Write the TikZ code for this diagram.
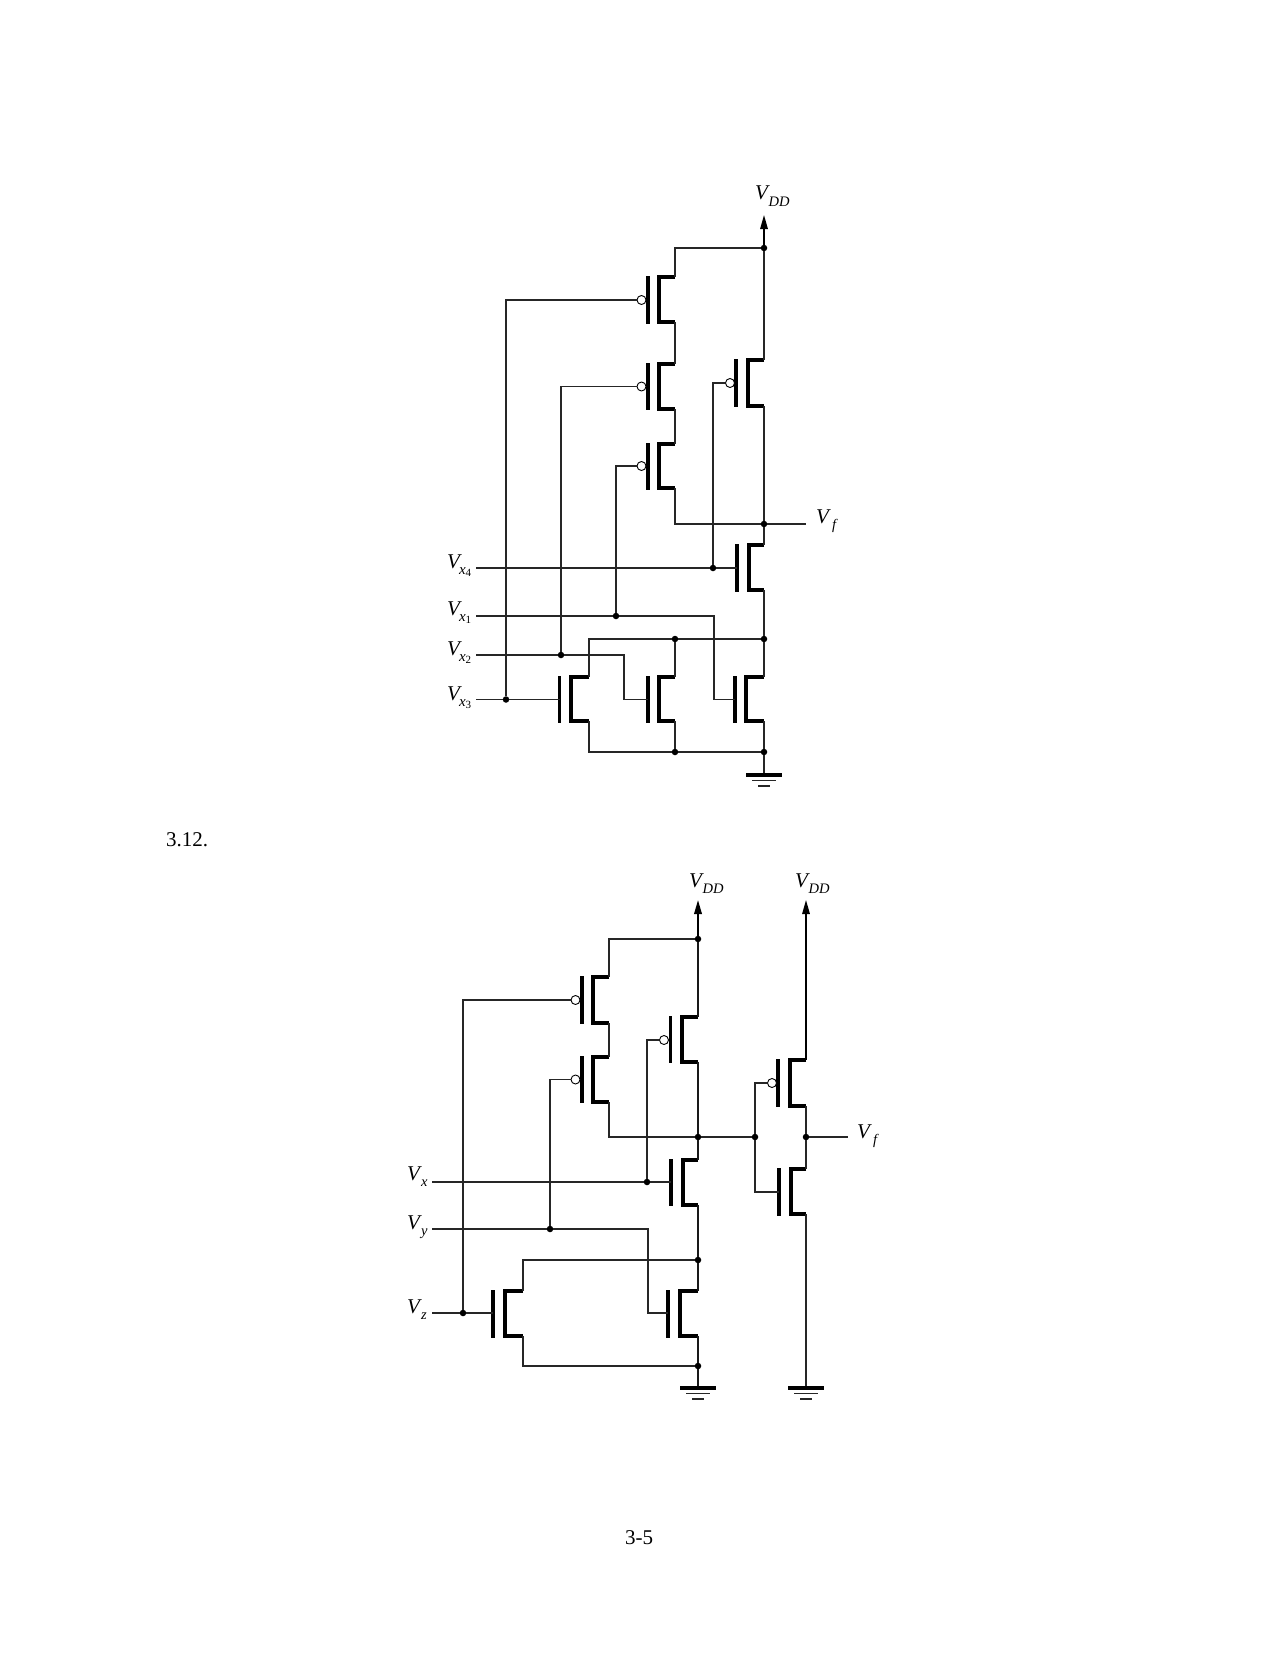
\documentclass[tikz,border=0pt]{standalone}
\usepackage{fontspec}
\setmainfont{Liberation Serif}
\usetikzlibrary{arrows.meta}
\newcommand{\sigV}[2][-1.5pt]{\textit{V}\kern#1\raisebox{-6pt}{\fontsize{14.5}{15}\selectfont\textit{#2}}}
\newcommand{\sigVx}[1]{\textit{V}\kern-3pt\raisebox{-6pt}{\fontsize{15}{15}\selectfont\textit{x}\raisebox{-2.5pt}{\fontsize{11}{11}\selectfont #1}}}
\tikzset{
	wire/.style={line width=1.3pt, black!85},
	rail/.style={line width=1.9pt, black!90},
	gatebar/.style={line width=3.6pt, black},
	channel/.style={line width=3.6pt, black, line join=miter},
	vddarrow/.style={line width=1.5pt, -{Triangle[length=14pt,width=7.5pt]}},
	gndbar/.style={line width=4pt, black},
	dot/.style={circle, fill=black, inner sep=0pt, minimum size=6.5pt},
	bubble/.style={circle, draw=black, fill=white, line width=0.9pt, inner sep=0pt, minimum size=9pt},
	siglabel/.style={anchor=base west, inner sep=0pt, font=\fontsize{21}{21}\selectfont},
	pagetext/.style={inner sep=0pt, font=\fontsize{21}{21}\selectfont}
}
\begin{document}
\begin{tikzpicture}[x=1pt, y=-1pt]
	\useasboundingbox (0,0) rectangle (1280,1656);
	% first circuit: pull up transistors
	\draw[gatebar] (648,276) -- (648,324);
	\draw[channel] (675,277) coordinate (pa1d) -- (659,277) -- (659,322) -- (675,322) coordinate (pa1s);
	\node[bubble] (pa1b) at (641.5,300) {};
	\draw[gatebar] (648,363) -- (648,410);
	\draw[channel] (675,364) coordinate (pa2d) -- (659,364) -- (659,409) -- (675,409) coordinate (pa2s);
	\node[bubble] (pa2b) at (641.5,386.5) {};
	\draw[gatebar] (648,443) -- (648,490);
	\draw[channel] (675,444) coordinate (pa3d) -- (659,444) -- (659,488) -- (675,488) coordinate (pa3s);
	\node[bubble] (pa3b) at (641.5,466) {};
	\draw[gatebar] (736,359) -- (736,407);
	\draw[channel] (764,360) coordinate (pa4d) -- (748,360) -- (748,406) -- (764,406) coordinate (pa4s);
	\node[bubble] (pa4b) at (730,383) {};
	% first circuit: pull down transistors
	\draw[gatebar] (737,544) -- (737,592);
	\draw[channel] (764,545) coordinate (na4d) -- (749,545) -- (749,590) -- (764,590) coordinate (na4s);
	\coordinate (na4g) at (737,568);
	\draw[gatebar] (735,676) -- (735,723);
	\draw[channel] (764,677) coordinate (na1d) -- (746,677) -- (746,721) -- (764,721) coordinate (na1s);
	\coordinate (na1g) at (735,699.5);
	\draw[gatebar] (648,676) -- (648,723);
	\draw[channel] (675,677) coordinate (na2d) -- (659,677) -- (659,721) -- (675,721) coordinate (na2s);
	\coordinate (na2g) at (648,699.5);
	\draw[gatebar] (559.5,676) -- (559.5,723);
	\draw[channel] (589,677) coordinate (na3d) -- (571,677) -- (571,721) -- (589,721) coordinate (na3s);
	\coordinate (na3g) at (559.5,699.5);
	% first circuit: junctions
	\node[dot] (jatop) at (764,248) {};
	\node[dot] (jaf) at (764,524) {};
	\node[dot] (jax4) at (713,568) {};
	\node[dot] (jax1) at (616,616) {};
	\node[dot] (jax2) at (561,655) {};
	\node[dot] (jax3) at (506,699.5) {};
	\node[dot] (jamidl) at (675,639) {};
	\node[dot] (jamid) at (764,639) {};
	\node[dot] (jabotl) at (675,752) {};
	\node[dot] (jabot) at (764,752) {};
	% first circuit: free ends
	\coordinate (tipa) at (764,215);
	\coordinate (gnda) at (764,775);
	\coordinate (outa) at (806,524);
	\coordinate (inx4) at (476,568);
	\coordinate (inx1) at (476,616);
	\coordinate (inx2) at (476,655);
	\coordinate (inx3) at (476,699.5);
	\coordinate (bendx1) at (714,699.5);
	\coordinate (bendx2) at (624,699.5);
	% first circuit: wires
	\draw[vddarrow] (jatop) -- (tipa);
	\draw[wire] (jatop) -| (pa1d);
	\draw[wire] (pa1s) -- (pa2d);
	\draw[wire] (pa2s) -- (pa3d);
	\draw[wire] (pa3s) |- (jaf);
	\draw[wire] (jatop) -- (pa4d);
	\draw[wire] (pa4s) -- (jaf);
	\draw[wire] (jaf) -- (outa);
	\draw[wire] (jaf) -- (na4d);
	\draw[wire] (na4s) -- (jamid);
	\draw[wire] (jamid) -- (na1d);
	\draw[wire] (na1s) -- (jabot);
	\draw[wire] (jabot) -- (gnda);
	\draw[wire] (jamidl) -- (jamid);
	\draw[wire] (jabotl) -- (jabot);
	\draw[wire] (na3d) |- (jamidl);
	\draw[wire] (na3s) |- (jabotl);
	\draw[wire] (jamidl) -- (na2d);
	\draw[wire] (na2s) -- (jabotl);
	\draw[wire] (jax3) |- (pa1b);
	\draw[wire] (jax2) |- (pa2b);
	\draw[wire] (jax1) |- (pa3b);
	\draw[wire] (jax4) |- (pa4b);
	\draw[wire] (inx4) -- (jax4);
	\draw[wire] (jax4) -- (na4g);
	\draw[wire] (inx1) -- (jax1);
	\draw[wire] (jax1) -| (bendx1) -- (na1g);
	\draw[wire] (inx2) -- (jax2);
	\draw[wire] (jax2) -| (bendx2) -- (na2g);
	\draw[wire] (inx3) -- (jax3);
	\draw[wire] (jax3) -- (na3g);
	% first circuit: ground
	\draw[gndbar] ([xshift=-18pt]gnda) -- ([xshift=18pt]gnda);
	\draw[wire] ([xshift=-12pt,yshift=-5.5pt]gnda) -- ([xshift=12pt,yshift=-5.5pt]gnda);
	\draw[wire] ([xshift=-6pt,yshift=-11pt]gnda) -- ([xshift=6pt,yshift=-11pt]gnda);
	% first circuit: labels
	\node[siglabel] (lvdda) at (755,200) {\sigV{DD}};
	\node[siglabel] (lfa) at (816,523) {\sigV[1pt]{f}};
	\node[siglabel] (lx4) at (447,568) {\sigVx{4}};
	\node[siglabel] (lx1) at (447,615) {\sigVx{1}};
	\node[siglabel] (lx2) at (447,655) {\sigVx{2}};
	\node[siglabel] (lx3) at (447,700) {\sigVx{3}};
	\node[pagetext] (problem) at (187,840) {3.12.};
	% second circuit: pull up transistors
	\draw[gatebar] (582,976) -- (582,1024);
	\draw[channel] (609,977) coordinate (pb1d) -- (593,977) -- (593,1023) -- (609,1023) coordinate (pb1s);
	\node[bubble] (pb1b) at (575.5,1000) {};
	\draw[gatebar] (582,1056) -- (582,1103);
	\draw[channel] (609,1057) coordinate (pb2d) -- (593,1057) -- (593,1102) -- (609,1102) coordinate (pb2s);
	\node[bubble] (pb2b) at (575.5,1079.5) {};
	\draw[gatebar] (670.5,1016) -- (670.5,1063);
	\draw[channel] (698,1017) coordinate (pb3d) -- (682,1017) -- (682,1062) -- (698,1062) coordinate (pb3s);
	\node[bubble] (pb3b) at (664,1040) {};
	\draw[gatebar] (778,1059) -- (778,1107);
	\draw[channel] (806,1060) coordinate (pb4d) -- (790,1060) -- (790,1106) -- (806,1106) coordinate (pb4s);
	\node[bubble] (pb4b) at (772,1083) {};
	% second circuit: pull down transistors
	\draw[gatebar] (671,1159) -- (671,1206);
	\draw[channel] (698,1160) coordinate (nb1d) -- (683,1160) -- (683,1205) -- (698,1205) coordinate (nb1s);
	\coordinate (nb1g) at (671,1182);
	\draw[gatebar] (668,1290) -- (668,1338);
	\draw[channel] (698,1291) coordinate (nb2d) -- (680,1291) -- (680,1336) -- (698,1336) coordinate (nb2s);
	\coordinate (nb2g) at (668,1313);
	\draw[gatebar] (493,1290) -- (493,1338);
	\draw[channel] (523,1291) coordinate (nb3d) -- (505,1291) -- (505,1336) -- (523,1336) coordinate (nb3s);
	\coordinate (nb3g) at (493,1313);
	\draw[gatebar] (779,1168) -- (779,1216);
	\draw[channel] (806,1169) coordinate (nb4d) -- (791,1169) -- (791,1214) -- (806,1214) coordinate (nb4s);
	\coordinate (nb4g) at (779,1192);
	% second circuit: junctions
	\node[dot] (jbtop) at (698,939) {};
	\node[dot] (jbout) at (698,1137) {};
	\node[dot] (jbinv) at (755,1137) {};
	\node[dot] (jbf) at (806,1137) {};
	\node[dot] (jbx) at (647,1182) {};
	\node[dot] (jby) at (550,1229) {};
	\node[dot] (jbz) at (463,1313) {};
	\node[dot] (jbmid) at (698,1260) {};
	\node[dot] (jbbot) at (698,1366) {};
	% second circuit: free ends
	\coordinate (tipb) at (698,900);
	\coordinate (tipc) at (806,900);
	\coordinate (gndb) at (698,1388);
	\coordinate (gndc) at (806,1388);
	\coordinate (outb) at (848,1137);
	\coordinate (inx) at (432,1182);
	\coordinate (iny) at (432,1229);
	\coordinate (inz) at (432,1313);
	\coordinate (bendy) at (648,1313);
	\coordinate (bendinv) at (755,1192);
	% second circuit: wires
	\draw[vddarrow, line width=1.9pt] (jbtop) -- (tipb);
	\draw[vddarrow] (pb4d) -- (tipc);
	\draw[wire] (jbtop) -| (pb1d);
	\draw[wire] (pb1s) -- (pb2d);
	\draw[wire] (pb2s) |- (jbout);
	\draw[rail] (jbtop) -- (pb3d);
	\draw[rail] (pb3s) -- (jbout);
	\draw[rail] (jbout) -- (nb1d);
	\draw[rail] (nb1s) -- (jbmid);
	\draw[rail] (jbmid) -- (nb2d);
	\draw[rail] (nb2s) -- (jbbot);
	\draw[rail] (jbbot) -- (gndb);
	\draw[wire] (jbout) -- (jbinv);
	\draw[wire] (jbinv) |- (pb4b);
	\draw[wire] (jbinv) -- (bendinv) -- (nb4g);
	\draw[wire] (pb4s) -- (jbf);
	\draw[wire] (jbf) -- (nb4d);
	\draw[wire] (nb4s) -- (gndc);
	\draw[wire] (jbf) -- (outb);
	\draw[wire] (nb3d) |- (jbmid);
	\draw[wire] (nb3s) |- (jbbot);
	\draw[wire] (jbz) |- (pb1b);
	\draw[wire] (jby) |- (pb2b);
	\draw[wire] (jbx) |- (pb3b);
	\draw[wire] (inx) -- (jbx);
	\draw[wire] (jbx) -- (nb1g);
	\draw[wire] (iny) -- (jby);
	\draw[wire] (jby) -| (bendy) -- (nb2g);
	\draw[wire] (inz) -- (jbz);
	\draw[wire] (jbz) -- (nb3g);
	% second circuit: ground
	\draw[gndbar] ([xshift=-18pt]gndb) -- ([xshift=18pt]gndb);
	\draw[wire] ([xshift=-12pt,yshift=-5.5pt]gndb) -- ([xshift=12pt,yshift=-5.5pt]gndb);
	\draw[wire] ([xshift=-6pt,yshift=-11pt]gndb) -- ([xshift=6pt,yshift=-11pt]gndb);
	\draw[gndbar] ([xshift=-18pt]gndc) -- ([xshift=18pt]gndc);
	\draw[wire] ([xshift=-12pt,yshift=-5.5pt]gndc) -- ([xshift=12pt,yshift=-5.5pt]gndc);
	\draw[wire] ([xshift=-6pt,yshift=-11pt]gndc) -- ([xshift=6pt,yshift=-11pt]gndc);
	% second circuit: labels
	\node[siglabel] (lvddb) at (689,887) {\sigV{DD}};
	\node[siglabel] (lvddc) at (795,887) {\sigV{DD}};
	\node[siglabel] (lfb) at (857,1138) {\sigV[1pt]{f}};
	\node[siglabel] (lx) at (407,1180) {\sigV[-1pt]{x}};
	\node[siglabel] (ly) at (407,1229) {\sigV[-1pt]{y}};
	\node[siglabel] (lz) at (407,1313) {\sigV[-1pt]{z}};
	\node[pagetext] (pagenum) at (639,1538) {3-5};
\end{tikzpicture}
\end{document}
